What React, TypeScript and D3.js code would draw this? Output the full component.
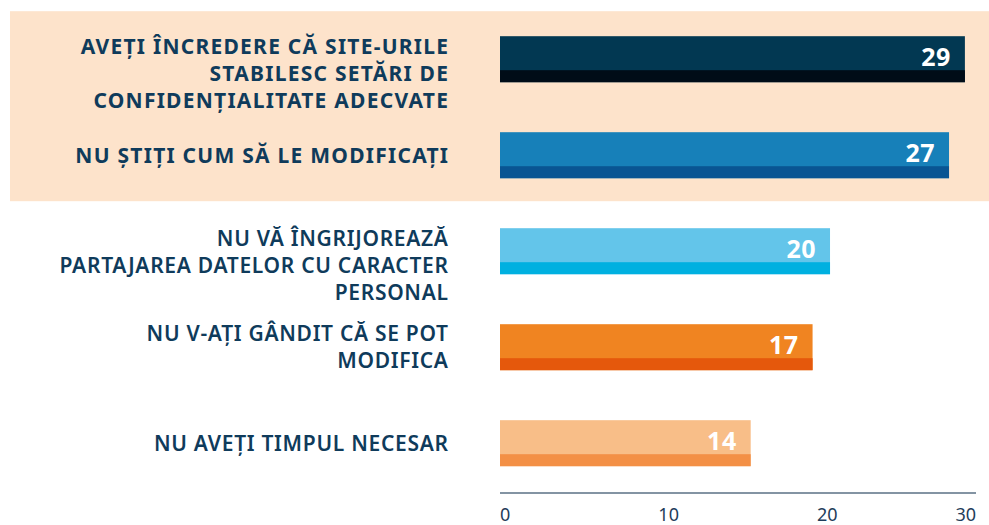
import React from "react";
import * as d3 from "d3";

const categories = [
  ["AVEȚI ÎNCREDERE CĂ SITE-URILE", "STABILESC SETĂRI DE", "CONFIDENȚIALITATE ADECVATE"],
  ["NU ȘTIȚI CUM SĂ LE MODIFICAȚI"],
  ["NU VĂ ÎNGRIJOREAZĂ", "PARTAJAREA DATELOR CU CARACTER", "PERSONAL"],
  ["NU V-AȚI GÂNDIT CĂ SE POT", "MODIFICA"],
  ["NU AVEȚI TIMPUL NECESAR"],
];
const values = [29, 27, 20, 17, 14];
// bar extents as drawn in the picture (axis units)
const barExtent = [29.3, 28.3, 20.8, 19.7, 15.8];
const highlighted = [true, true, false, false, false];
const ticks = [0, 10, 20, 30];

const topColors = ["#023852", "#1780b9", "#63c5ea", "#f08421", "#f8be88"];
const stripColors = ["#000c17", "#095593", "#00b0e0", "#e5580c", "#f39046"];

const W = 989;
const H = 525;

export default function App() {
  const x = d3.scaleLinear().domain([0, 30]).range([500, 976]);
  const ids = categories.map((_, i) => String(i));
  const y = d3.scaleBand().domain(ids).range([36.2, 466.2]).paddingInner(0.5208).paddingOuter(0);
  const bw = y.bandwidth();
  const strip = 12;
  const lineH = 27;
  const textColor = "#0f3b5b";
  const font = "'Noto Sans', 'Open Sans', sans-serif";

  const bgTop = (y("0") as number) - 25;
  const bgBottom = ((y("1") as number) + bw + (y("2") as number)) / 2 - 2;

  return (
    <svg width={W} height={H} style={{ position: "absolute", left: 0, top: 0, display: "block" }}>
      <rect x={0} y={0} width={W} height={H} fill="#ffffff" />
      <rect x={10} y={bgTop} width={W - 10} height={bgBottom - bgTop} fill="#fde3cb" />
      {categories.map((lines, i) => {
        const top = y(String(i)) as number;
        const center = top + bw / 2;
        const n = lines.length;
        const first = n >= 3 ? top + 18 : center - ((n - 1) * lineH) / 2 + 7.5;
        const ls = highlighted[i] ? 1.25 : 0.7;
        return (
          <text
            key={"l" + i}
            textAnchor="end"
            fontFamily={font}
            fontWeight={highlighted[i] ? 700 : 600}
            fontSize={21}
            letterSpacing={ls}
            fill={textColor}
          >
            {lines.map((ln, j) => (
              <tspan key={j} x={448 + ls} y={first + j * lineH}>
                {ln}
              </tspan>
            ))}
          </text>
        );
      })}
      {values.map((v, i) => {
        const top = y(String(i)) as number;
        const x0 = x(0);
        const x1 = x(barExtent[i]);
        return (
          <g key={"b" + i}>
            <rect x={x0} y={top} width={x1 - x0} height={bw} fill={topColors[i]} />
            <rect x={x0} y={top + bw - strip} width={x1 - x0} height={strip} fill={stripColors[i]} />
            <text
              x={x1 - 14}
              y={top + 30}
              textAnchor="end"
              fontFamily={font}
              fontWeight={700}
              fontSize={25}
              letterSpacing={0.5}
              fill="#ffffff"
            >
              {v}
            </text>
          </g>
        );
      })}
      <line x1={x(0)} x2={x(30)} y1={493} y2={493} stroke="#5a7085" strokeWidth={1.5} />
      {ticks.map((t, i) => {
        const anchor = i === 0 ? "start" : i === ticks.length - 1 ? "end" : "middle";
        const dx = anchor === "middle" ? 10 : 0;
        return (
          <text
            key={"t" + t}
            x={x(t) + dx}
            y={521}
            textAnchor={anchor}
            fontFamily={font}
            fontSize={18}
            fill="#1f3d5a"
          >
            {t}
          </text>
        );
      })}
    </svg>
  );
}
